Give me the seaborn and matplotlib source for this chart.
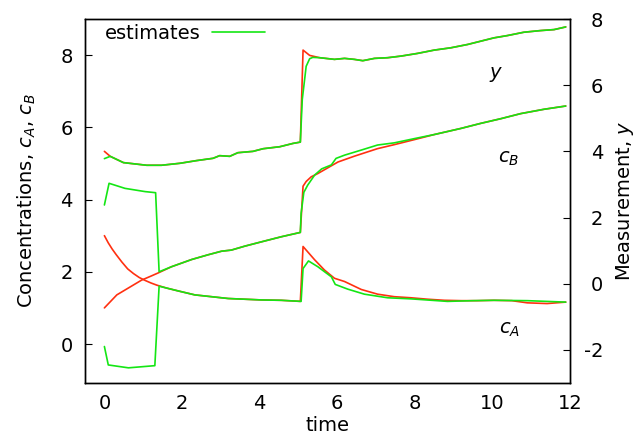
import numpy as np
import matplotlib
matplotlib.use("Agg")
import matplotlib.pyplot as plt
from matplotlib.lines import Line2D
import seaborn as sns

# ---------------- data ----------------
# true concentration c_A (left axis)
t_cA_true = [0.0, 0.1, 0.2, 0.3, 0.45, 0.6, 0.75, 0.9, 1.05, 1.2, 1.35, 1.6, 1.9, 2.33, 2.76,
             3.19, 3.62, 4.05, 4.56, 5.05, 5.12, 5.42, 5.67, 5.93, 6.19, 6.62, 7.04, 7.47, 7.9,
             8.33, 8.76, 9.2, 9.6, 10.04, 10.5, 10.9, 11.41, 11.89]
cA_true = [3.0, 2.8, 2.63, 2.48, 2.27, 2.08, 1.95, 1.84, 1.76, 1.69, 1.63, 1.55, 1.47, 1.36, 1.31,
           1.26, 1.24, 1.22, 1.21, 1.18, 2.70, 2.33, 2.05, 1.82, 1.73, 1.51, 1.38, 1.31, 1.28,
           1.24, 1.21, 1.20, 1.20, 1.21, 1.20, 1.14, 1.12, 1.16]

# estimated c_A (left axis)
t_cA_est = [0.0, 0.1, 0.62, 1.3, 1.41, 1.6, 1.9, 2.33, 2.76, 3.19, 3.62, 4.05, 4.56, 5.07,
            5.12, 5.26, 5.5, 5.85, 5.95, 6.27, 6.7, 7.3, 7.9, 8.84, 9.5, 10.04, 10.9, 11.4, 11.89]
cA_est = [-0.07, -0.58, -0.66, -0.60, 1.60, 1.55, 1.47, 1.36, 1.31, 1.26, 1.24, 1.22, 1.21, 1.18,
          2.09, 2.30, 2.14, 1.86, 1.65, 1.52, 1.38, 1.28, 1.25, 1.18, 1.20, 1.21, 1.20, 1.18, 1.16]

# true concentration c_B (left axis)
t_cB_true = [0.0, 0.32, 0.96, 1.2, 1.39, 1.73, 2.25, 2.67, 3.02, 3.27, 3.62, 4.05, 4.56, 5.05,
             5.12, 5.2, 5.33, 5.5, 5.76, 6.02, 6.44, 7.04, 7.47, 7.99, 8.5, 9.19, 9.7, 10.22,
             10.73, 11.33, 11.89]
cB_true = [1.0, 1.36, 1.77, 1.88, 1.97, 2.14, 2.34, 2.47, 2.57, 2.60, 2.71, 2.83, 2.97, 3.09,
           4.37, 4.50, 4.63, 4.72, 4.88, 5.04, 5.20, 5.41, 5.52, 5.66, 5.80, 5.97, 6.11, 6.24,
           6.38, 6.50, 6.59]

# estimated c_B (left axis)
t_cB_est = [0.0, 0.12, 0.53, 1.05, 1.32, 1.41, 1.73, 2.25, 2.67, 3.02, 3.27, 3.62, 4.05, 4.56,
            5.05, 5.07, 5.14, 5.24, 5.42, 5.6, 5.85, 5.97, 6.19, 6.62, 7.04, 7.47, 8.0, 8.5,
            9.19, 9.7, 10.22, 10.73, 11.33, 11.89]
cB_est = [3.85, 4.45, 4.31, 4.22, 4.19, 2.00, 2.14, 2.34, 2.47, 2.57, 2.60, 2.71, 2.83, 2.97,
          3.09, 3.62, 4.20, 4.40, 4.68, 4.85, 4.96, 5.14, 5.23, 5.37, 5.51, 5.57, 5.69, 5.80,
          5.97, 6.11, 6.24, 6.38, 6.50, 6.59]

# true measurement y (right axis)
t_y_true = [0.0, 0.15, 0.49, 1.09, 1.47, 1.95, 2.37, 2.8, 2.97, 3.23, 3.44, 3.83, 4.09, 4.52,
            4.86, 5.05, 5.12, 5.29, 5.55, 5.93, 6.19, 6.44, 6.66, 6.96, 7.30, 7.65, 8.07, 8.5,
            8.93, 9.36, 9.70, 10.04, 10.39, 10.81, 11.24, 11.59, 11.89]
y_true = [4.00, 3.85, 3.66, 3.58, 3.58, 3.64, 3.72, 3.79, 3.87, 3.85, 3.96, 4.00, 4.08, 4.14,
          4.24, 4.28, 7.06, 6.90, 6.83, 6.78, 6.81, 6.78, 6.74, 6.81, 6.83, 6.88, 6.96, 7.06,
          7.13, 7.23, 7.33, 7.43, 7.50, 7.60, 7.65, 7.68, 7.76]

# estimated y (right axis)
t_y_est = [0.0, 0.15, 0.49, 1.09, 1.47, 1.95, 2.37, 2.8, 2.97, 3.23, 3.44, 3.83, 4.09, 4.52,
           4.86, 5.05, 5.10, 5.20, 5.29, 5.37, 5.55, 5.93, 6.19, 6.44, 6.66, 6.96, 7.30, 7.65,
           8.07, 8.5, 8.93, 9.36, 9.70, 10.04, 10.39, 10.81, 11.24, 11.59, 11.89]
y_est = [3.78, 3.85, 3.66, 3.58, 3.58, 3.64, 3.72, 3.79, 3.87, 3.85, 3.96, 4.00, 4.08, 4.14,
         4.24, 4.28, 5.57, 6.57, 6.80, 6.84, 6.83, 6.78, 6.81, 6.78, 6.74, 6.81, 6.83, 6.88,
         6.96, 7.06, 7.13, 7.23, 7.33, 7.43, 7.50, 7.60, 7.65, 7.68, 7.76]

x_ticks = [0, 2, 4, 6, 8, 10, 12]
left_ticks = [0, 2, 4, 6, 8]
right_ticks = [-2, 0, 2, 4, 6, 8]

curve_labels = ["$y$", "$c_B$", "$c_A$"]
curve_label_pos = [(10.1, 7.45), (10.43, 5.15), (10.43, 0.39)]

# ---------------- style ----------------
sns.set_style("white")
plt.rcParams["font.family"] = ["DejaVu Sans"]
plt.rcParams["mathtext.fontset"] = "dejavusans"
plt.rcParams["axes.unicode_minus"] = False
plt.rcParams["font.size"] = 14
plt.rcParams["text.color"] = "black"
plt.rcParams["axes.labelcolor"] = "black"
plt.rcParams["xtick.color"] = "black"
plt.rcParams["ytick.color"] = "black"

RED = "#ff3010"
GREEN = "#14e614"
LW = 1.2

fig = plt.figure(figsize=(6.38, 4.42), dpi=100)
ax = fig.add_axes([85 / 638, 1 - 383 / 442, (570 - 85) / 638, (383 - 19) / 442])
ax2 = ax.twinx()

sns.lineplot(x=t_cA_true, y=cA_true, ax=ax, color=RED, lw=LW, estimator=None, sort=False)
sns.lineplot(x=t_cB_true, y=cB_true, ax=ax, color=RED, lw=LW, estimator=None, sort=False)
sns.lineplot(x=t_cA_est, y=cA_est, ax=ax, color=GREEN, lw=LW, estimator=None, sort=False)
sns.lineplot(x=t_cB_est, y=cB_est, ax=ax, color=GREEN, lw=LW, estimator=None, sort=False)
sns.lineplot(x=t_y_true, y=y_true, ax=ax2, color=RED, lw=LW, estimator=None, sort=False)
sns.lineplot(x=t_y_est, y=y_est, ax=ax2, color=GREEN, lw=LW, estimator=None, sort=False)

ax.set_xlim(-0.5, 12)
ax.set_ylim(-1.08, 9)
ax2.set_ylim(-3, 8)

ax.set_xticks(x_ticks)
ax.set_yticks(left_ticks)
ax2.set_yticks(right_ticks)

for a in (ax, ax2):
    for s in a.spines.values():
        s.set_visible(True)
        s.set_color("black")
        s.set_linewidth(1.0)

ax.tick_params(axis="both", which="major", direction="in", length=5, width=0.8,
               colors="black", labelsize=14, top=False, right=False)
ax.tick_params(axis="y", pad=9)
ax.tick_params(axis="x", pad=8)
ax2.tick_params(axis="y", direction="in", length=5, width=0.8, colors="black",
                labelsize=14, pad=24, left=False, right=True)
for lbl in ax2.get_yticklabels():
    lbl.set_horizontalalignment("right")

ax.set_xlabel("time", fontsize=14, labelpad=2, color="black")
ax.set_ylabel("Concentrations, $c_A$, $c_B$", fontsize=14, labelpad=16, color="black")
ax2.set_ylabel("Measurement, $y$", fontsize=14, labelpad=8, color="black")

for txt, (xx, yy) in zip(curve_labels, curve_label_pos):
    ax.text(xx, yy, txt, fontsize=14, ha="center", va="center", color="black")

handle = Line2D([], [], color=GREEN, lw=LW)
leg = ax.legend(handles=[handle], labels=["estimates"], loc="upper left",
                bbox_to_anchor=(0.033, 0.998), borderaxespad=0, borderpad=0.2,
                frameon=False, markerfirst=False, handlelength=2.7, handletextpad=0.6,
                fontsize=14)
for t in leg.get_texts():
    t.set_color("black")

fig.savefig("out.png", dpi=100)
